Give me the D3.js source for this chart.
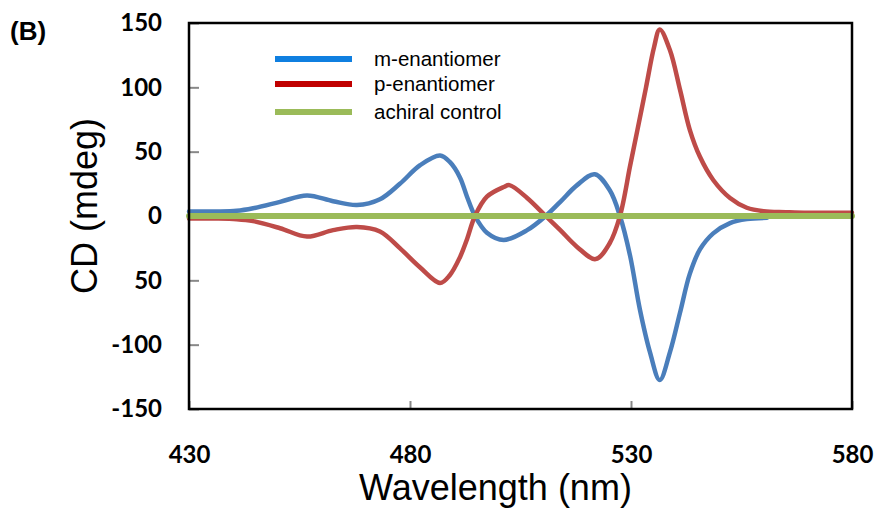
<!DOCTYPE html>
<html><head><meta charset="utf-8">
<script src="https://cdn.jsdelivr.net/npm/d3@7"></script>
<style>body{margin:0;background:#fff}svg{display:block}</style>
</head><body>
<svg id="c" width="880" height="512"></svg>
<script>
// ---- data ----
const mWave = [430,436,440.8,444.5,450.6,456.7,462.6,468,473.2,477.7,482.3,486.8,489,491.3,492.9,494.7,497.4,501.2,506.5,510.7,514,517.8,521.8,525.2,527.5,529.8,532,534.3,536.5,538.8,541.1,543.3,545.6,548.6,552.4,556.2,560.8];
const mCD   = [3.5,3.5,4,6,11,16,11.5,8.5,13,25,39.5,47,42,30,15,0,-13,-18.6,-11,0,11,24,32.5,20,0,-31,-72.5,-106,-127.5,-106,-75,-45,-26,-13.5,-5.5,-2.4,-1.4];
const pWave = [430,436,440.8,444.5,450.6,456.7,462.6,468,473.2,477.7,482.3,486.8,489,491.3,492.9,494.7,497.4,501.2,502.5,506.5,510.7,514,517.8,522,525.2,527.5,529.8,531.4,533.4,535.2,536.5,538.8,541.1,543.3,545.6,548.6,552.4,556.2,560,565,570,580];
const pCD   = [-2,-2,-2.5,-4,-9.5,-16,-11,-8.5,-12,-25,-40,-52,-46,-32,-18,0,15,22.5,24,14,0,-11,-24,-33.5,-21,0,39,66,100,131,145,129,98,67,46,28,14,6.4,3.7,3,2.5,2.5];
const cWave = [430,580];
const cCD   = [0,0];
const seriesNames = ["m-enantiomer","p-enantiomer","achiral control"];
const xTicks = [430,480,530,580];
const yTicks = [150,100,50,0,-50,-100,-150];
const yTickLabels = ["150","100","50","0","50","-100","-150"];

// ---- layout ----
const L=189,R=852,T=23,B=409;
const svg=d3.select("#c");
const x=d3.scaleLinear().domain([430,580]).range([L,R]);
const y=d3.scaleLinear().domain([-150,150]).range([B,T]);

const tickFont="Lato, 'Open Sans', sans-serif";
// y axis
const ya=svg.append("g").attr("transform",`translate(${L},0)`)
  .call(d3.axisLeft(y).tickValues(yTicks).tickSizeInner(-10).tickSizeOuter(0).tickPadding(27)
    .tickFormat((d,i)=>yTickLabels[i]));
ya.select(".domain").remove();
ya.selectAll("line").attr("stroke","#888").attr("stroke-width",2);
ya.selectAll("text").attr("font-family",tickFont).attr("font-weight","bold").attr("font-size",24).attr("fill","#000");
// x axis
const xa=svg.append("g").attr("transform",`translate(0,${B})`)
  .call(d3.axisBottom(x).tickValues(xTicks).tickSizeInner(-8).tickSizeOuter(0).tickPadding(37).tickFormat(d3.format("d")));
xa.select(".domain").remove();
xa.selectAll("line").attr("stroke","#888").attr("stroke-width",2);
xa.selectAll("text").attr("font-family",tickFont).attr("font-weight","bold").attr("font-size",24).attr("fill","#000");

// lines
const line=d3.line().curve(d3.curveCatmullRom.alpha(0.5));
function draw(w,v,color,width){
  svg.append("path").datum(w.map((d,i)=>[x(d),y(v[i])]))
    .attr("d",line).attr("fill","none").attr("stroke",color).attr("stroke-width",width)
    .attr("stroke-linejoin","round").attr("stroke-linecap","round");
}
draw(mWave,mCD,"#4a7ebb",4.5);
draw(pWave,pCD,"#be4b48",4.5);
draw(cWave,cCD,"#9bbb59",6);

// frame
svg.append("rect").attr("x",L).attr("y",T).attr("width",R-L).attr("height",B-T)
  .attr("fill","none").attr("stroke","#000").attr("stroke-width",2.5);

// legend
const legColors=["#0f7fe0","#c00000","#9bbb59"];
const legY=[59,84,112];
seriesNames.forEach((n,i)=>{
  svg.append("line").attr("x1",275).attr("x2",352).attr("y1",legY[i]).attr("y2",legY[i])
    .attr("stroke",legColors[i]).attr("stroke-width",6);
  svg.append("text").attr("x",374).attr("y",legY[i]).attr("dy","0.35em")
    .attr("font-family","'Liberation Sans', Arial, sans-serif").attr("font-size",20.5).text(n);
});

// titles
svg.append("text").attr("x",10).attr("y",40).attr("font-family","'Liberation Sans', Arial, sans-serif")
  .attr("font-weight","bold").attr("font-size",26).text("(B)");
svg.append("text").attr("x",(L+R)/2-25).attr("y",500).attr("text-anchor","middle")
  .attr("font-family","'Liberation Sans', Arial, sans-serif").attr("font-size",36).text("Wavelength (nm)");
svg.append("text").attr("transform",`translate(97,206) rotate(-90)`).attr("text-anchor","middle")
  .attr("font-family","'Liberation Sans', Arial, sans-serif").attr("font-size",36).text("CD (mdeg)");
</script>
</body></html>
